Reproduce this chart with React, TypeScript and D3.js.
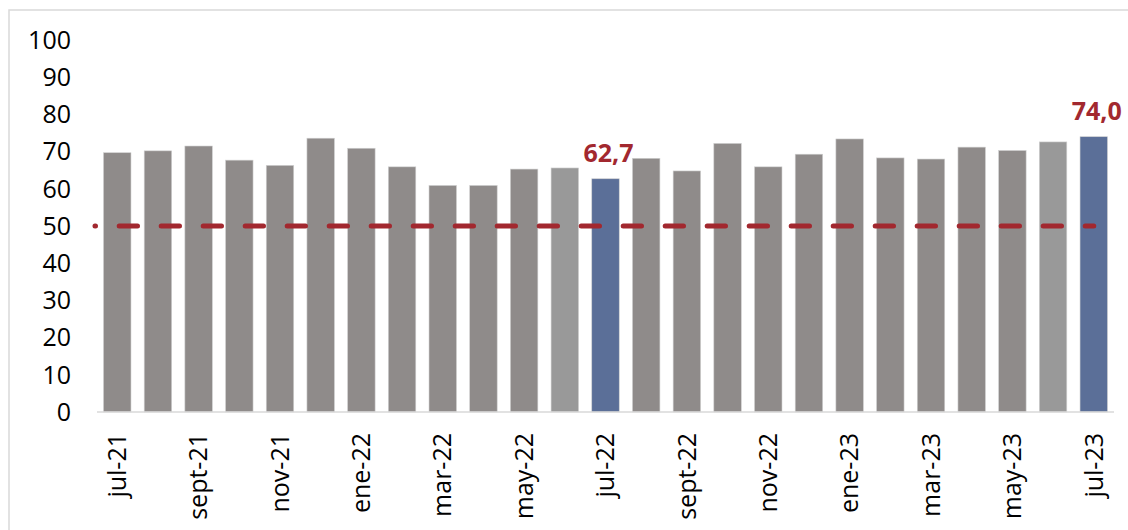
import React from "react";
import * as d3 from "d3";

// monthly index, jul-21 .. jul-23
const months = [
  "jul-21", "ago-21", "sept-21", "oct-21", "nov-21", "dic-21",
  "ene-22", "feb-22", "mar-22", "abr-22", "may-22", "jun-22",
  "jul-22", "ago-22", "sept-22", "oct-22", "nov-22", "dic-22",
  "ene-23", "feb-23", "mar-23", "abr-23", "may-23", "jun-23", "jul-23",
];
const values = [
  69.7, 70.2, 71.5, 67.7, 66.3, 73.6, 70.9, 65.9, 60.9, 60.9, 65.3, 65.6,
  62.7, 68.2, 64.8, 72.2, 65.9, 69.3, 73.4, 68.3, 68.0, 71.2, 70.3, 72.6, 74.0,
];
const highlighted = ["jul-22", "jul-23"];
const lighter = ["jun-22", "jun-23"];
const threshold = 50;
const yTicks = [0, 10, 20, 30, 40, 50, 60, 70, 80, 90, 100];

export default function App() {
  const width = 1128;
  const height = 530;
  const font = "'Open Sans', 'Noto Sans', sans-serif";

  const x = d3.scaleBand().domain(months).range([97, 1114]).paddingInner(0.325).paddingOuter(0.16);
  const y = d3.scaleLinear().domain([0, 100]).range([412, 40]);

  const colorOf = (m: string) =>
    highlighted.includes(m) ? "#5B6F98" : lighter.includes(m) ? "#999999" : "#8F8B8A";

  const cx = (m: string) => (x(m) ?? 0) + x.bandwidth() / 2;
  const lineStart = x.range()[0] - 2;
  const lineEnd = cx(months[months.length - 1]);

  return (
    <svg
      width={width}
      height={height}
      style={{ position: "absolute", left: 0, top: 0, background: "#fff" }}
      fontFamily={font}
    >
      <rect x={9} y={10} width={width} height={height} fill="none" stroke="#D9D9D9" strokeWidth={1.5} />

      {/* y tick labels */}
      {yTicks.map((t) => (
        <text key={t} x={71} y={y(t)} dy="0.35em" textAnchor="end" fontSize={25} fill="#000">
          {t}
        </text>
      ))}

      {/* bars */}
      {months.map((m, i) => (
        <rect
          key={m}
          x={x(m)}
          y={y(values[i])}
          width={x.bandwidth()}
          height={y(0) - y(values[i])}
          fill={colorOf(m)}
          stroke="#D0D0D0"
          strokeWidth={0.6}
        />
      ))}

      {/* x axis line */}
      <line x1={x.range()[0]} x2={x.range()[1]} y1={y(0)} y2={y(0)} stroke="#D9D9D9" strokeWidth={1.5} />

      {/* 50 threshold */}
      <line
        x1={lineStart}
        x2={lineEnd}
        y1={y(threshold)}
        y2={y(threshold)}
        stroke="#A2282F"
        strokeWidth={5}
        strokeLinecap="round"
        strokeDasharray="18.3 23.7"
        strokeDashoffset={17.8}
      />

      {/* value labels */}
      {highlighted.map((m) => {
        const v = values[months.indexOf(m)];
        return (
          <text
            key={m}
            x={cx(m) + 3}
            y={y(v) - 17}
            textAnchor="middle"
            fontSize={25}
            fontWeight="bold"
            fill="#A2282F"
          >
            {d3.format(".1f")(v).replace(".", ",")}
          </text>
        );
      })}

      {/* x labels, every other month */}
      {months.map((m, i) =>
        i % 2 === 0 ? (
          <text
            key={m}
            transform={`translate(${cx(m)},${433}) rotate(-90)`}
            dy="0.35em"
            textAnchor="end"
            fontSize={25}
            fill="#000"
          >
            {m}
          </text>
        ) : null
      )}
    </svg>
  );
}
